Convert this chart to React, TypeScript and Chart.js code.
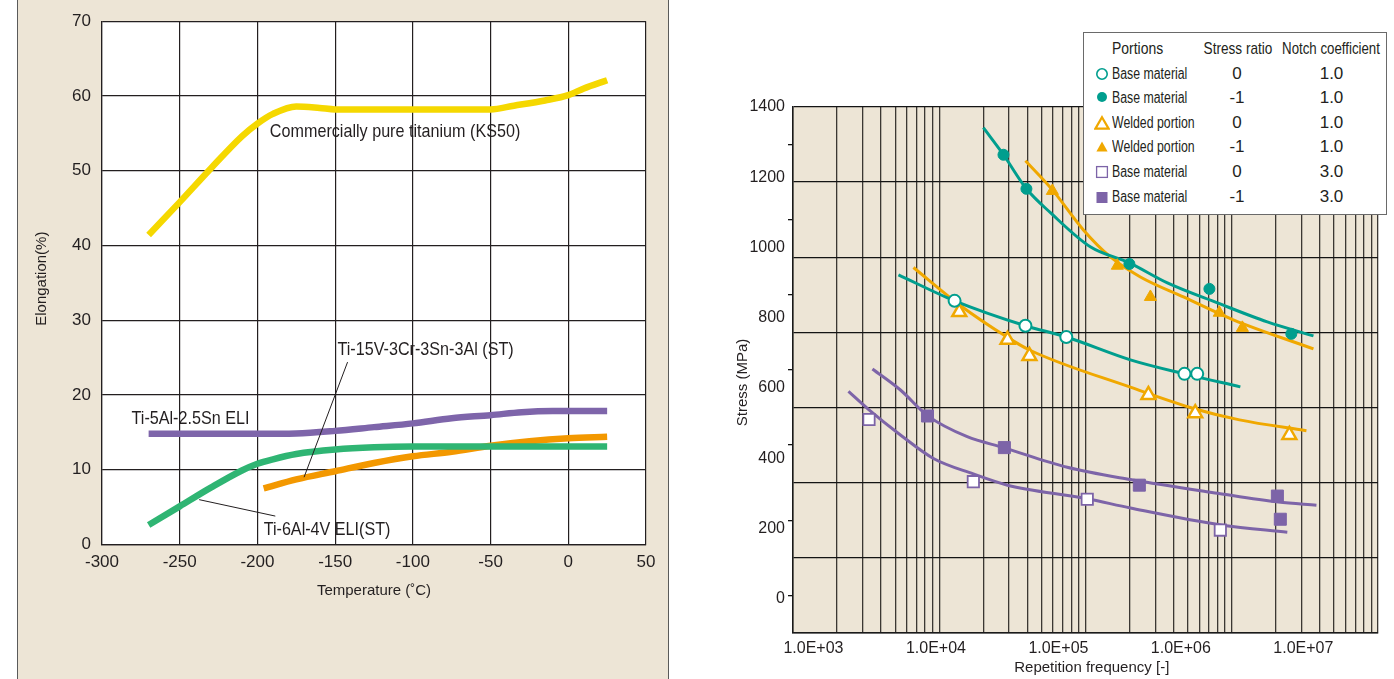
import React, { useEffect, useRef } from 'react';
import { Chart, registerables } from 'chart.js';

Chart.register(...registerables);

const FONT = "'Liberation Sans', Arial, sans-serif";
const TEXT = '#231f20';
const BEIGE = '#ede5d6';
const TEAL = '#009e8e';
const ORANGE = '#f0a800';
const PURPLE = '#7d64a8';
const NB = '\u00a0';

// ---------------- Left chart: Elongation vs temperature ----------------
const TEMP_TICKS = [-300, -250, -200, -150, -100, -50, 0, 50];
const ELONG_TICKS = [0, 10, 20, 30, 40, 50, 60, 70];

const cpTiTemp = [-270, -250, -230, -210, -200, -190, -175, -160, -150, -100, -50, -35, -15, 0, 10, 25];
const cpTiElong = [41.4, 45.8, 50.3, 54.6, 56.3, 57.6, 58.6, 58.4, 58.2, 58.2, 58.2, 58.7, 59.4, 60.1, 61.0, 62.1];

const ti5AlTemp = [-270, -200, -175, -150, -125, -100, -75, -50, -30, -10, 25];
const ti5AlElong = [14.8, 14.8, 14.85, 15.2, 15.7, 16.2, 16.9, 17.3, 17.7, 17.85, 17.85];

const ti6AlTemp = [-270, -250, -230, -210, -200, -190, -175, -150, -125, -100, -50, 25];
const ti6AlElong = [2.6, 5.1, 7.6, 9.9, 10.8, 11.4, 12.1, 12.7, 13.0, 13.1, 13.1, 13.1];

const ti15VTemp = [-196, -175, -150, -125, -100, -75, -50, -25, 0, 25];
const ti15VElong = [7.5, 8.7, 9.8, 10.9, 11.8, 12.4, 13.2, 13.8, 14.2, 14.4];

const LEFT_NOTES = [
  { text: 'Commercially pure titanium (KS50)', x: -192, y: 55.2 },
  { text: 'Ti-15V-3Cr-3Sn-3Al (ST)', x: -148.5, y: 26.0 },
  { text: 'Ti-5Al-2.5Sn ELI', x: -281, y: 16.8 },
  { text: 'Ti-6Al-4V ELI(ST)', x: -196, y: 2.0 },
];
const LEADER_15V = { x: [-142, -170], y: [24.4, 9.0] };
const LEADER_6AL = { x: [-237.5, -188.5], y: [6.0, 3.8] };

// ---------------- Right chart: S-N data ----------------
const STRESS_LABELS = [0, 200, 400, 600, 800, 1000, 1200, 1400];
const FREQ_LABELS = [1e3, 1e4, 1e5, 1e6, 1e7];

const baseR0N1Cycles = [1.42e4, 5.38e4, 1.16e5, 1.07e6, 1.36e6];
const baseR0N1Stress = [848, 777, 745, 640, 640];
const baseRm1N1Cycles = [3.56e4, 5.48e4, 3.8e5, 1.71e6, 7.98e6];
const baseRm1N1Stress = [1264, 1167, 953, 882, 754];
const weldR0Cycles = [1.55e4, 3.84e4, 5.8e4, 5.43e5, 1.31e6, 7.69e6];
const weldR0Stress = [816, 737, 691, 580, 528, 466];
const weldRm1Cycles = [8.93e4, 3.03e5, 5.64e5, 2.06e6, 3.18e6];
const weldRm1Stress = [1161, 948, 859, 814, 771];
const baseR0N3Cycles = [2.84e3, 2.02e4, 1.72e5, 2.1e6];
const baseR0N3Stress = [510, 333, 283, 195];
const baseRm1N3Cycles = [8.53e3, 3.62e4, 4.58e5, 6.14e6, 6.49e6];
const baseRm1N3Stress = [520, 430, 323, 292, 226];

const fitBaseRm1N1Cycles = [2.44e4, 3.56e4, 5.48e4, 8.61e4, 1.82e5, 3.8e5, 7.76e5, 1.99e6, 5.08e6, 1.21e7];
const fitBaseRm1N1Stress = [1341, 1264, 1167, 1099, 1002, 956, 899, 842, 788, 748];
const fitWeldRm1Cycles = [5.38e4, 8.93e4, 1.6e5, 2.66e5, 4.67e5, 1.05e6, 2.68e6, 1.21e7];
const fitWeldRm1Stress = [1247, 1164, 1050, 973, 916, 859, 794, 711];
const fitBaseR0N1Cycles = [4.94e3, 1.42e4, 5.38e4, 1.16e5, 3.87e5, 1.07e6, 3.06e6];
const fitBaseR0N1Stress = [922, 848, 777, 745, 680, 640, 603];
const fitWeldR0Cycles = [6.55e3, 1.55e4, 3.84e4, 5.8e4, 3.87e5, 1.31e6, 3.01e6, 1.06e7];
const fitWeldR0Stress = [943, 837, 744, 708, 602, 540, 509, 478];
const fitBaseRm1N3Cycles = [3.03e3, 5.13e3, 8.53e3, 1.8e4, 3.56e4, 1.18e5, 3.87e5, 1.99e6, 6.25e6, 1.28e7];
const fitBaseRm1N3Stress = [654, 594, 521, 461, 430, 374, 339, 300, 275, 266];
const fitBaseR0N3Cycles = [1.93e3, 2.81e3, 5.13e3, 9.54e3, 2.02e4, 3.84e4, 1.69e5, 3.87e5, 2.18e6, 7.4e6];
const fitBaseR0N3Stress = [590, 539, 466, 399, 355, 323, 285, 258, 209, 189];

const LEGEND_ROWS = [
  { marker: 'openCircle', portion: 'Base material', ratio: '0', notch: '1.0' },
  { marker: 'filledCircle', portion: 'Base material', ratio: '-1', notch: '1.0' },
  { marker: 'openTriangle', portion: 'Welded portion', ratio: '0', notch: '1.0' },
  { marker: 'filledTriangle', portion: 'Welded portion', ratio: '-1', notch: '1.0' },
  { marker: 'openSquare', portion: 'Base material', ratio: '0', notch: '3.0' },
  { marker: 'filledSquare', portion: 'Base material', ratio: '-1', notch: '3.0' },
];

// axis geometry of the source figure (its grid and its labels are not aligned)
const Y_MIN = -98;
const Y_MAX = 1400;
const LOG_MIN = 2.8327;
const LOG_MAX = 7.6098;

const pts = (xs: number[], ys: number[]) => xs.map((x, i) => ({ x, y: ys[i] }));

const bgPlugin = (id: string, color: string) => ({
  id,
  beforeDraw(chart: any) {
    const { ctx, chartArea: a } = chart;
    ctx.save();
    ctx.fillStyle = color;
    ctx.fillRect(a.left, a.top, a.right - a.left, a.bottom - a.top);
    ctx.restore();
  },
});

const notesPlugin = {
  id: 'notes',
  afterDatasetsDraw(chart: any) {
    const { ctx, scales } = chart;
    ctx.save();
    ctx.font = `19px ${FONT}`;
    ctx.fillStyle = TEXT;
    ctx.textAlign = 'left';
    ctx.textBaseline = 'middle';
    LEFT_NOTES.forEach((n) => {
      ctx.save();
      ctx.translate(scales.x.getPixelForValue(n.x), scales.y.getPixelForValue(n.y));
      ctx.scale(0.85, 1);
      ctx.fillText(n.text, 0, 0);
      ctx.restore();
    });
    ctx.restore();
  },
};

function thickLine(xs: number[], ys: number[], color: string) {
  return {
    data: pts(xs, ys),
    showLine: true,
    borderColor: color,
    backgroundColor: color,
    borderWidth: 6.5,
    pointRadius: 0,
    cubicInterpolationMode: 'monotone',
    borderCapStyle: 'butt',
    order: 1,
  };
}

function leader(l: { x: number[]; y: number[] }) {
  return {
    data: pts(l.x, l.y),
    showLine: true,
    borderColor: TEXT,
    borderWidth: 1,
    pointRadius: 0,
    order: 0,
  };
}

function leftConfig(): any {
  return {
    type: 'scatter',
    data: {
      datasets: [
        thickLine(cpTiTemp, cpTiElong, '#f5d800'),
        thickLine(ti5AlTemp, ti5AlElong, '#7e65aa'),
        thickLine(ti6AlTemp, ti6AlElong, '#2fb573'),
        thickLine(ti15VTemp, ti15VElong, '#f39800'),
        leader(LEADER_15V),
        leader(LEADER_6AL),
      ],
    },
    options: {
      animation: false,
      responsive: false,
      maintainAspectRatio: false,
      layout: { padding: { left: 0, right: 22, top: 17, bottom: 79 } },
      plugins: { legend: { display: false }, tooltip: { enabled: false } },
      scales: {
        x: {
          type: 'linear',
          min: -300,
          max: 50,
          afterBuildTicks: (s: any) => {
            s.ticks = TEMP_TICKS.map((v) => ({ value: v }));
          },
          afterFit: (s: any) => {
            s.height = 55.5;
          },
          grid: { color: TEXT, lineWidth: 1.2, drawTicks: false },
          border: { color: TEXT, width: 1.2 },
          ticks: { font: { family: FONT, size: 17 }, color: TEXT, padding: 7.5, maxRotation: 0, autoSkip: false },
          title: {
            display: true,
            text: 'Temperature (˚C)',
            font: { family: FONT, size: 15 },
            color: TEXT,
            padding: { top: 0, bottom: 0 },
          },
        },
        y: {
          type: 'linear',
          min: 0,
          max: 70,
          afterBuildTicks: (s: any) => {
            s.ticks = ELONG_TICKS.map((v) => ({ value: v }));
          },
          afterFit: (s: any) => {
            s.width = 102;
          },
          grid: { color: TEXT, lineWidth: 1.2, drawTicks: false },
          border: { color: TEXT, width: 1.2 },
          ticks: { font: { family: FONT, size: 17 }, color: TEXT, padding: 11, autoSkip: false },
          title: {
            display: true,
            text: NB + NB + 'Elongation(%)',
            font: { family: FONT, size: 15 },
            color: TEXT,
            padding: { top: 33, bottom: 0 },
          },
        },
      },
    },
    plugins: [bgPlugin('leftBg', '#ffffff'), notesPlugin],
  };
}

function markerSet(xs: number[], ys: number[], style: string, radius: number, fill: string, stroke: string, bw: number) {
  return {
    data: pts(xs, ys),
    showLine: false,
    pointStyle: style,
    pointRadius: radius,
    pointBackgroundColor: fill,
    pointBorderColor: stroke,
    pointBorderWidth: bw,
    backgroundColor: fill,
    borderColor: stroke,
    order: 0,
  };
}

function fitCurve(xs: number[], ys: number[], color: string) {
  return {
    data: pts(xs, ys),
    showLine: true,
    borderColor: color,
    backgroundColor: color,
    borderWidth: 3,
    pointRadius: 0,
    cubicInterpolationMode: 'monotone',
    order: 1,
  };
}

function freqTicks() {
  const ticks: any[] = FREQ_LABELS.map((v) => ({ value: v, kind: 'label' }));
  const dec = (LOG_MAX - LOG_MIN) / 4;
  for (let k = 0; k <= 4; k++) {
    for (let m = 1; m <= 9; m++) {
      if (k === 4 && m > 1) break;
      ticks.push({ value: Math.pow(10, LOG_MIN + dec * (k + Math.log10(m))), kind: 'grid' });
    }
  }
  return ticks.sort((a, b) => a.value - b.value);
}

function stressTicks() {
  const ticks: any[] = STRESS_LABELS.map((v) => ({ value: v, kind: 'label' }));
  for (let k = 0; k <= 14; k++) {
    ticks.push({ value: Y_MIN + ((Y_MAX - Y_MIN) * k) / 14, kind: k % 2 === 0 ? 'major' : 'minor' });
  }
  return ticks.sort((a, b) => a.value - b.value);
}

const expLabel = (v: number) => '1.0E+' + String(Math.round(Math.log10(v))).padStart(2, '0');

function rightConfig(): any {
  return {
    type: 'scatter',
    data: {
      datasets: [
        markerSet(baseR0N1Cycles, baseR0N1Stress, 'circle', 6, '#ffffff', TEAL, 2),
        markerSet(baseRm1N1Cycles, baseRm1N1Stress, 'circle', 5.5, TEAL, TEAL, 1),
        markerSet(weldR0Cycles, weldR0Stress, 'triangle', 8, '#ffffff', ORANGE, 2.5),
        markerSet(weldRm1Cycles, weldRm1Stress, 'triangle', 7, ORANGE, ORANGE, 1),
        markerSet(baseR0N3Cycles, baseR0N3Stress, 'rect', 8, '#ffffff', PURPLE, 1.8),
        markerSet(baseRm1N3Cycles, baseRm1N3Stress, 'rect', 8.5, PURPLE, PURPLE, 1),
        fitCurve(fitBaseRm1N1Cycles, fitBaseRm1N1Stress, TEAL),
        fitCurve(fitWeldRm1Cycles, fitWeldRm1Stress, ORANGE),
        fitCurve(fitBaseR0N1Cycles, fitBaseR0N1Stress, TEAL),
        fitCurve(fitWeldR0Cycles, fitWeldR0Stress, ORANGE),
        fitCurve(fitBaseRm1N3Cycles, fitBaseRm1N3Stress, PURPLE),
        fitCurve(fitBaseR0N3Cycles, fitBaseR0N3Stress, PURPLE),
      ],
    },
    options: {
      animation: false,
      responsive: false,
      maintainAspectRatio: false,
      layout: { padding: { left: 0, right: 16, top: 107, bottom: 0 } },
      plugins: { legend: { display: false }, tooltip: { enabled: false } },
      scales: {
        x: {
          type: 'logarithmic',
          min: Math.pow(10, LOG_MIN),
          max: Math.pow(10, LOG_MAX),
          afterBuildTicks: (s: any) => {
            s.ticks = freqTicks();
          },
          afterFit: (s: any) => {
            s.height = 46;
          },
          grid: {
            color: (c: any) => (c.tick && c.tick.kind === 'grid' ? '#3b3733' : 'rgba(0,0,0,0)'),
            lineWidth: 1.3,
            drawTicks: false,
          },
          border: { color: '#1a1a1a', width: 1.5 },
          ticks: {
            font: { family: FONT, size: 16 },
            color: TEXT,
            padding: 6,
            maxRotation: 0,
            autoSkip: false,
            callback: (v: number, i: number, t: any[]) => (t[i] && t[i].kind === 'label' ? expLabel(v) : ''),
          },
          title: {
            display: true,
            text: NB + NB + NB + 'Repetition frequency [-]',
            font: { family: FONT, size: 15 },
            color: TEXT,
            padding: { top: 0, bottom: 2 },
          },
        },
        y: {
          type: 'linear',
          min: Y_MIN,
          max: Y_MAX,
          afterBuildTicks: (s: any) => {
            s.ticks = stressTicks();
          },
          afterFit: (s: any) => {
            s.width = 93;
          },
          grid: {
            color: (c: any) => (c.tick && c.tick.kind === 'major' ? '#141414' : 'rgba(0,0,0,0)'),
            tickColor: (c: any) => (c.tick && c.tick.kind === 'minor' ? '#141414' : 'rgba(0,0,0,0)'),
            lineWidth: 1.3,
            drawTicks: true,
            tickLength: 5,
          },
          border: { color: '#1a1a1a', width: 1.5 },
          ticks: {
            font: { family: FONT, size: 16 },
            color: TEXT,
            padding: 3,
            autoSkip: false,
            callback: (v: number, i: number, t: any[]) => (t[i] && t[i].kind === 'label' ? String(v) : ''),
          },
          title: {
            display: true,
            text: 'Stress (MPa)' + NB + NB + NB + NB + NB + NB,
            font: { family: FONT, size: 15 },
            color: TEXT,
            padding: { top: 34, bottom: 0 },
          },
        },
      },
    },
    plugins: [bgPlugin('rightBg', BEIGE)],
  };
}

function ChartCanvas(props: { make: () => any; left: number; width: number; height: number }) {
  const ref = useRef<HTMLCanvasElement>(null);
  useEffect(() => {
    const chart = new Chart(ref.current as HTMLCanvasElement, props.make());
    return () => chart.destroy();
  }, []);
  return (
    <canvas
      ref={ref}
      width={props.width}
      height={props.height}
      style={{ position: 'absolute', left: props.left, top: 0, width: props.width, height: props.height }}
    />
  );
}

function Marker({ kind }: { kind: string }) {
  let shape: any = null;
  if (kind === 'openCircle') shape = <circle cx={8} cy={8} r={5.2} fill="#fff" stroke={TEAL} strokeWidth={1.6} />;
  if (kind === 'filledCircle') shape = <circle cx={8} cy={7} r={5} fill={TEAL} />;
  if (kind === 'openTriangle') shape = <polygon points="8,2.2 14.6,13.6 1.4,13.6" fill="#fff" stroke={ORANGE} strokeWidth={2.2} />;
  if (kind === 'filledTriangle') shape = <polygon points="8,2.5 13.6,12.5 2.4,12.5" fill={ORANGE} />;
  if (kind === 'openSquare') shape = <rect x={2.6} y={2.6} width={10.8} height={10.8} fill="#fff" stroke={PURPLE} strokeWidth={1.3} />;
  if (kind === 'filledSquare') shape = <rect x={2.5} y={3} width={11} height={11} fill={PURPLE} />;
  return (
    <svg width={16} height={16} style={{ position: 'absolute', left: 9.5, top: -8 }}>
      {shape}
    </svg>
  );
}

function Legend() {
  const txt: any = { position: 'absolute', fontFamily: FONT, color: TEXT, whiteSpace: 'nowrap', lineHeight: '20px' };
  const leftSq = (s: number) => ({ transform: `scaleX(${s})`, transformOrigin: 'left center' });
  const centered = (s: number) => ({ transform: `translateX(-50%) scaleX(${s})`, transformOrigin: '50% 50%' });
  return (
    <div
      style={{
        position: 'absolute',
        left: 1083,
        top: 32,
        width: 304,
        height: 183,
        boxSizing: 'border-box',
        border: '1.5px solid #6a6a6a',
        background: '#fff',
      }}
    >
      <span style={{ ...txt, left: 27.5, top: 6, fontSize: 17, ...leftSq(0.82) }}>Portions</span>
      <span style={{ ...txt, left: 154, top: 6, fontSize: 17, ...centered(0.8) }}>Stress ratio</span>
      <span style={{ ...txt, left: 247, top: 6, fontSize: 17, ...centered(0.78) }}>Notch coefficient</span>
      {LEGEND_ROWS.map((r, i) => {
        const cy = 40.5 + 24.6 * i;
        return (
          <div key={i} style={{ position: 'absolute', left: 0, top: cy, width: 300, height: 0 }}>
            <Marker kind={r.marker} />
            <span style={{ ...txt, left: 27.5, top: -10, fontSize: 16, ...leftSq(0.77) }}>{r.portion}</span>
            <span style={{ ...txt, left: 153, top: -10, fontSize: 17, ...centered(1) }}>{r.ratio}</span>
            <span style={{ ...txt, left: 247.5, top: -10, fontSize: 17, ...centered(1) }}>{r.notch}</span>
          </div>
        );
      })}
    </div>
  );
}

export default function App() {
  return (
    <div style={{ position: 'fixed', left: 0, top: 0, width: 1394, height: 679, overflow: 'hidden', background: '#fff' }}>
      <div
        style={{
          position: 'absolute',
          left: 17,
          top: 0,
          width: 652,
          height: 679,
          boxSizing: 'border-box',
          background: BEIGE,
          borderLeft: '1.5px solid #5a5a5a',
          borderRight: '1.5px solid #5a5a5a',
        }}
      />
      <ChartCanvas make={leftConfig} left={0} width={668} height={679} />
      <ChartCanvas make={rightConfig} left={700} width={694} height={679} />
      <Legend />
    </div>
  );
}
